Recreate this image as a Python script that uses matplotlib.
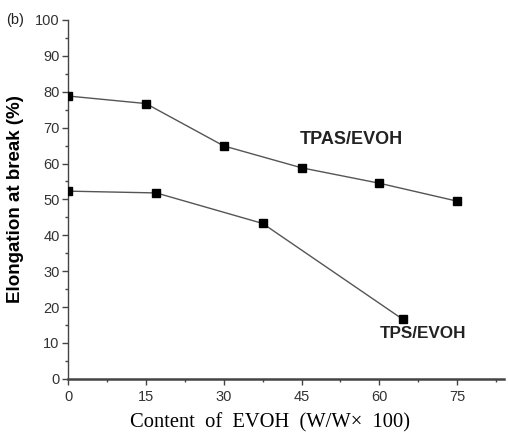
import numpy as np
import matplotlib.pyplot as plt
from matplotlib.ticker import MultipleLocator

# Data
tpas_x = [0, 15, 30, 45, 60, 75]
tpas_y = [78.8, 76.7, 64.9, 58.8, 54.5, 49.5]
tps_x = [0, 17, 37.5, 64.5]
tps_y = [52.3, 51.8, 43.3, 16.6]

xticks = [0, 15, 30, 45, 60, 75]
yticks = list(range(0, 101, 10))

fig = plt.figure(figsize=(5.08, 4.33), dpi=100)
ax = fig.add_axes([0.134, 0.125, 0.858, 0.829])

for x, y in [(tpas_x, tpas_y), (tps_x, tps_y)]:
    ax.plot(x, y, color='#555555', lw=1.0, marker='s', ms=5.5,
            mfc='black', mec='black', zorder=3)

ax.set_xlim(0, 84)
ax.set_ylim(0, 100)
ax.set_xticks(xticks)
ax.set_yticks(yticks)
ax.xaxis.set_minor_locator(MultipleLocator(7.5))
ax.yaxis.set_minor_locator(MultipleLocator(5))

for s in ['top', 'right']:
    ax.spines[s].set_visible(False)
ax.spines['left'].set_color('#444444')
ax.spines['left'].set_linewidth(1.0)
ax.spines['bottom'].set_color('#444444')
ax.spines['bottom'].set_linewidth(1.8)

ax.tick_params(axis='both', which='major', direction='out', length=4,
               width=1, color='#444444', labelsize=10.5, labelcolor='#333333')
ax.tick_params(axis='both', which='minor', direction='out', length=2,
               width=1, color='#444444')
ax.tick_params(axis='x', pad=4)
ax.tick_params(axis='y', pad=2)
for lab in ax.get_xticklabels() + ax.get_yticklabels():
    lab.set_family('Liberation Sans')

ax.text(0.649, 0.668, 'TPAS/EVOH', transform=ax.transAxes, fontsize=13,
        fontweight='bold', family='Liberation Sans', ha='center', va='center',
        color='#222222')
ax.text(0.814, 0.126, 'TPS/EVOH', transform=ax.transAxes, fontsize=12.3,
        fontweight='bold', family='Liberation Sans', ha='center', va='center',
        color='#222222')

ax.set_ylabel('Elongation at break (%)', fontsize=13.5, fontweight='bold',
              family='Liberation Sans', labelpad=8)
ax.set_xlabel('Content  of  EVOH  (W/W\u00d7  100)', fontsize=14.8,
              family='Liberation Serif')
ax.xaxis.set_label_coords(0.463, -0.095)

fig.text(0.012, 0.953, '(b)', fontsize=10.5, family='Liberation Sans',
         va='center', color='#222222')

fig.savefig('out.png', dpi=100)
